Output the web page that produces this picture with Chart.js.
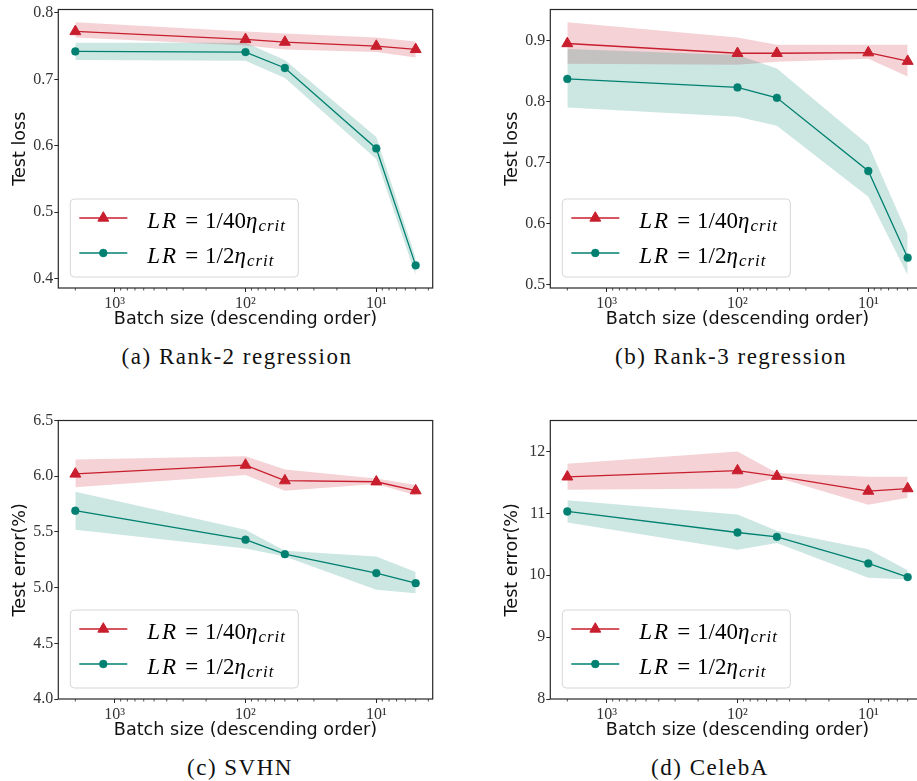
<!DOCTYPE html>
<html>
<head>
<meta charset="utf-8">
<script src="https://cdn.jsdelivr.net/npm/chart.js@4.4.1/dist/chart.umd.min.js"></script>
<style>
  body { margin: 0; background: #fff; }
  #page { position: relative; width: 917px; height: 781px; overflow: hidden; background: #fff; }
  .panel { position: absolute; width: 440px; height: 330px; }
  .caption { position: absolute; transform: translateX(-50%); white-space: nowrap; line-height: 23px;
    font-family: 'Liberation Serif', serif; font-size: 23px; letter-spacing: 1.5px; color: #111; }
</style>
</head>
<body>
<div id="page">
  <div class="panel" style="left:0px;top:0px"><canvas id="chartA" width="440" height="330"></canvas></div>
  <div class="panel" style="left:492px;top:0px"><canvas id="chartB" width="440" height="330"></canvas></div>
  <div class="panel" style="left:0px;top:411px"><canvas id="chartC" width="440" height="330"></canvas></div>
  <div class="panel" style="left:492px;top:411px"><canvas id="chartD" width="440" height="330"></canvas></div>
  <div class="caption" style="left:237px;top:345px">(a) Rank-2 regression</div>
  <div class="caption" style="left:731px;top:345px">(b) Rank-3 regression</div>
  <div class="caption" style="left:240px;top:756px">(c) SVHN</div>
  <div class="caption" style="left:710px;top:756px">(d) CelebA</div>
</div>
<script>
// shared x data
const batchSizes = [2000, 100, 50, 10, 5];
const xTickValues = [1000, 100, 10];
const xTickLabels = ['10³', '10²', '10¹'];
const seriesLabels = ['LR = 1/40η_crit', 'LR = 1/2η_crit'];

// (a) rank-2 regression
const rank2Slow = [0.772, 0.760, 0.756, 0.750, 0.745];
const rank2SlowHigh = [0.786, 0.772, 0.769, 0.763, 0.757];
const rank2SlowLow = [0.763, 0.751, 0.745, 0.741, 0.733];
const rank2Fast = [0.742, 0.741, 0.717, 0.596, 0.420];
const rank2FastHigh = [0.755, 0.755, 0.729, 0.613, 0.431];
const rank2FastLow = [0.729, 0.728, 0.702, 0.580, 0.405];
const rank2Ticks = [0.4, 0.5, 0.6, 0.7, 0.8];
const rank2TickLabels = ['0.4', '0.5', '0.6', '0.7', '0.8'];

// (b) rank-3 regression
const rank3Slow = [0.895, 0.879, 0.879, 0.880, 0.866];
const rank3SlowHigh = [0.930, 0.905, 0.893, 0.893, 0.893];
const rank3SlowLow = [0.862, 0.860, 0.865, 0.870, 0.841];
const rank3Fast = [0.837, 0.823, 0.806, 0.686, 0.544];
const rank3FastHigh = [0.886, 0.876, 0.854, 0.729, 0.582];
const rank3FastLow = [0.790, 0.775, 0.760, 0.644, 0.515];
const rank3Ticks = [0.5, 0.6, 0.7, 0.8, 0.9];
const rank3TickLabels = ['0.5', '0.6', '0.7', '0.8', '0.9'];

// (c) SVHN
const svhnSlow = [6.02, 6.10, 5.96, 5.95, 5.87];
const svhnSlowHigh = [6.15, 6.18, 6.06, 5.98, 5.92];
const svhnSlowLow = [5.90, 6.01, 5.87, 5.93, 5.83];
const svhnFast = [5.69, 5.43, 5.30, 5.13, 5.04];
const svhnFastHigh = [5.86, 5.52, 5.33, 5.28, 5.14];
const svhnFastLow = [5.52, 5.35, 5.28, 4.98, 4.95];
const svhnTicks = [4.0, 4.5, 5.0, 5.5, 6.0, 6.5];
const svhnTickLabels = ['4.0', '4.5', '5.0', '5.5', '6.0', '6.5'];

// (d) CelebA
const celebSlow = [11.59, 11.69, 11.60, 11.36, 11.40];
const celebSlowHigh = [11.80, 12.00, 11.65, 11.59, 11.59];
const celebSlowLow = [11.38, 11.40, 11.58, 11.14, 11.25];
const celebFast = [11.03, 10.69, 10.62, 10.19, 9.97];
const celebFastHigh = [11.21, 10.98, 10.72, 10.42, 10.08];
const celebFastLow = [10.85, 10.41, 10.52, 9.96, 9.93];
const celebTicks = [8, 9, 10, 11, 12];
const celebTickLabels = ['8', '9', '10', '11', '12'];

const red = 'rgb(200, 30, 45)';
const redFill = 'rgba(200, 30, 45, 0.2)';
const teal = 'rgb(0, 128, 112)';
const tealFill = 'rgba(0, 128, 112, 0.2)';
const axisColor = '#262626';
const tickFont = { family: 'Liberation Serif', size: 16 };
const titleFont = { family: 'DejaVu Sans', size: 17.6, lineHeight: 1.2 };

// matplotlib-like 5% margins on the log x axis
const lMax = Math.log10(Math.max(...batchSizes));
const lMin = Math.log10(Math.min(...batchSizes));
const xHi = 10 ** (lMax + 0.05 * (lMax - lMin));
const xLo = 10 ** (lMin - 0.05 * (lMax - lMin));

function autoRange(...arrs) {
  const all = arrs.flat();
  const lo = Math.min(...all), hi = Math.max(...all);
  return [lo - 0.05 * (hi - lo), hi + 0.05 * (hi - lo)];
}

function drawMarker(ctx, style, r, x, y) {
  ctx.beginPath();
  if (style === 'triangle') {
    for (let k = 0; k < 3; k++) {
      const ang = k * 2 * Math.PI / 3;
      const px = x + Math.sin(ang) * r, py = y - Math.cos(ang) * r;
      if (k === 0) ctx.moveTo(px, py); else ctx.lineTo(px, py);
    }
    ctx.closePath();
  } else {
    ctx.arc(x, y, r, 0, 2 * Math.PI);
  }
  ctx.fill();
  ctx.stroke();
}

function drawMathLabel(ctx, label, x, y) {
  const [lhs, rhs] = label.split(' = ');
  const [body, sub] = rhs.split('_');
  const roman = '23px "Liberation Serif"';
  const italic = 'italic 23px "Liberation Serif"';
  ctx.fillStyle = '#000';
  ctx.textBaseline = 'alphabetic';
  ctx.textAlign = 'left';
  ctx.font = italic;
  for (const ch of lhs) {
    ctx.fillText(ch, x, y);
    x += ctx.measureText(ch).width + 2;
  }
  x += 7;
  ctx.font = roman;
  ctx.fillText('=', x, y);
  x += ctx.measureText('=').width + 7;
  for (const ch of body) {
    ctx.font = /[0-9\/]/.test(ch) ? roman : italic;
    ctx.fillText(ch, x, y);
    x += ctx.measureText(ch).width;
  }
  ctx.font = 'italic 17px "Liberation Serif"';
  x += 1;
  for (const ch of sub) {
    ctx.fillText(ch, x, y + 3.5);
    x += ctx.measureText(ch).width + 1;
  }
}

const framePlugin = {
  id: 'frame',
  afterDraw(chart) {
    const { ctx, chartArea: a } = chart;
    const xs = chart.scales.x;
    ctx.save();
    // minor ticks on the log axis
    ctx.strokeStyle = axisColor;
    ctx.lineWidth = 0.8;
    for (let e = 0; e <= 4; e++) {
      for (let m = 2; m <= 9; m++) {
        const v = m * 10 ** e;
        if (v < xs.min || v > xs.max) continue;
        const px = xs.getPixelForValue(v);
        ctx.beginPath();
        ctx.moveTo(px, a.bottom);
        ctx.lineTo(px, a.bottom + 2.5);
        ctx.stroke();
      }
    }
    ctx.lineWidth = 1.2;
    ctx.strokeRect(a.left, a.top, a.right - a.left, a.bottom - a.top);

    // legend, lower left
    const bw = 228, bh = 78;
    const bx = a.left + 12, by = a.bottom - 11 - bh;
    ctx.fillStyle = 'rgba(255,255,255,0.8)';
    ctx.strokeStyle = '#d6d6d6';
    ctx.lineWidth = 1;
    ctx.beginPath();
    ctx.roundRect(bx, by, bw, bh, 4);
    ctx.fill();
    ctx.stroke();
    chart.data.datasets.filter(d => d.label).forEach((d, i) => {
      const ry = by + 19 + i * 35;
      ctx.strokeStyle = d.borderColor;
      ctx.lineWidth = d.borderWidth;
      ctx.beginPath();
      ctx.moveTo(bx + 9, ry);
      ctx.lineTo(bx + 57, ry);
      ctx.stroke();
      ctx.fillStyle = d.backgroundColor;
      ctx.lineWidth = d.pointBorderWidth;
      drawMarker(ctx, d.pointStyle, d.pointRadius, bx + 33, ry);
      drawMathLabel(ctx, d.label, bx + 77, ry + 9.5);
    });
    ctx.restore();
  }
};

function makePanel(id, p) {
  const pts = ys => batchSizes.map((b, i) => ({ x: b, y: ys[i] }));
  const band = (ys, color, order, fill) => ({
    data: pts(ys), borderWidth: 0, pointRadius: 0, backgroundColor: color, fill: fill, order: order
  });
  new Chart(document.getElementById(id), {
    type: 'line',
    data: {
      datasets: [
        band(p.slowHigh, redFill, 4, false),
        band(p.slowLow, redFill, 4, '-1'),
        band(p.fastHigh, tealFill, 3, false),
        band(p.fastLow, tealFill, 3, '-1'),
        { label: seriesLabels[0], data: pts(p.slow), borderColor: red, backgroundColor: red,
          borderWidth: 1.3, pointStyle: 'triangle', pointRadius: 6.3, pointBorderWidth: 1,
          pointBorderColor: red, fill: false, order: 2 },
        { label: seriesLabels[1], data: pts(p.fast), borderColor: teal, backgroundColor: teal,
          borderWidth: 1.3, pointStyle: 'circle', pointRadius: 3.9, pointBorderWidth: 0.5,
          pointBorderColor: teal, fill: false, order: 1 }
      ]
    },
    options: {
      responsive: false,
      animation: false,
      layout: { padding: { top: 9.5, right: 7, left: 0, bottom: 0 } },
      plugins: { legend: { display: false }, tooltip: { enabled: false } },
      scales: {
        x: {
          type: 'logarithmic', reverse: true, min: xLo, max: xHi,
          afterBuildTicks: s => { s.ticks = xTickValues.map(v => ({ value: v })); },
          afterFit: s => { s.height = 42; s.paddingLeft = 0; s.paddingRight = 0; },
          ticks: { callback: (v, i) => xTickLabels[i], font: tickFont, color: '#333',
                   padding: 2, maxRotation: 0, autoSkip: false },
          grid: { drawOnChartArea: false, tickLength: 4, tickColor: axisColor, tickWidth: 1 },
          border: { display: false },
          title: { display: true, text: 'Batch size (descending order)', font: titleFont,
                   color: '#111', padding: 0 }
        },
        y: {
          min: p.yRange[0], max: p.yRange[1],
          afterBuildTicks: s => { s.ticks = p.yTicks.map(v => ({ value: v })); },
          afterFit: s => { s.width = 58.3; s.paddingTop = 0; s.paddingBottom = 0; },
          ticks: { callback: (v, i) => p.yTickLabels[i], font: tickFont, color: '#333', padding: 1 },
          grid: { drawOnChartArea: false, tickLength: 4, tickColor: axisColor, tickWidth: 1 },
          border: { display: false },
          title: { display: true, text: p.yTitle, font: titleFont, color: '#111',
                   padding: { top: 10, bottom: 0 } }
        }
      }
    },
    plugins: [framePlugin]
  });
}

makePanel('chartA', {
  slow: rank2Slow, slowHigh: rank2SlowHigh, slowLow: rank2SlowLow,
  fast: rank2Fast, fastHigh: rank2FastHigh, fastLow: rank2FastLow,
  yRange: autoRange(rank2SlowHigh, rank2SlowLow, rank2FastHigh, rank2FastLow),
  yTicks: rank2Ticks, yTickLabels: rank2TickLabels, yTitle: 'Test loss'
});
makePanel('chartB', {
  slow: rank3Slow, slowHigh: rank3SlowHigh, slowLow: rank3SlowLow,
  fast: rank3Fast, fastHigh: rank3FastHigh, fastLow: rank3FastLow,
  yRange: autoRange(rank3SlowHigh, rank3SlowLow, rank3FastHigh, rank3FastLow),
  yTicks: rank3Ticks, yTickLabels: rank3TickLabels, yTitle: 'Test loss'
});
makePanel('chartC', {
  slow: svhnSlow, slowHigh: svhnSlowHigh, slowLow: svhnSlowLow,
  fast: svhnFast, fastHigh: svhnFastHigh, fastLow: svhnFastLow,
  yRange: [4.0, 6.5],
  yTicks: svhnTicks, yTickLabels: svhnTickLabels, yTitle: 'Test error(%)'
});
makePanel('chartD', {
  slow: celebSlow, slowHigh: celebSlowHigh, slowLow: celebSlowLow,
  fast: celebFast, fastHigh: celebFastHigh, fastLow: celebFastLow,
  yRange: [8, 12.5],
  yTicks: celebTicks, yTickLabels: celebTickLabels, yTitle: 'Test error(%)'
});
</script>
</body>
</html>
